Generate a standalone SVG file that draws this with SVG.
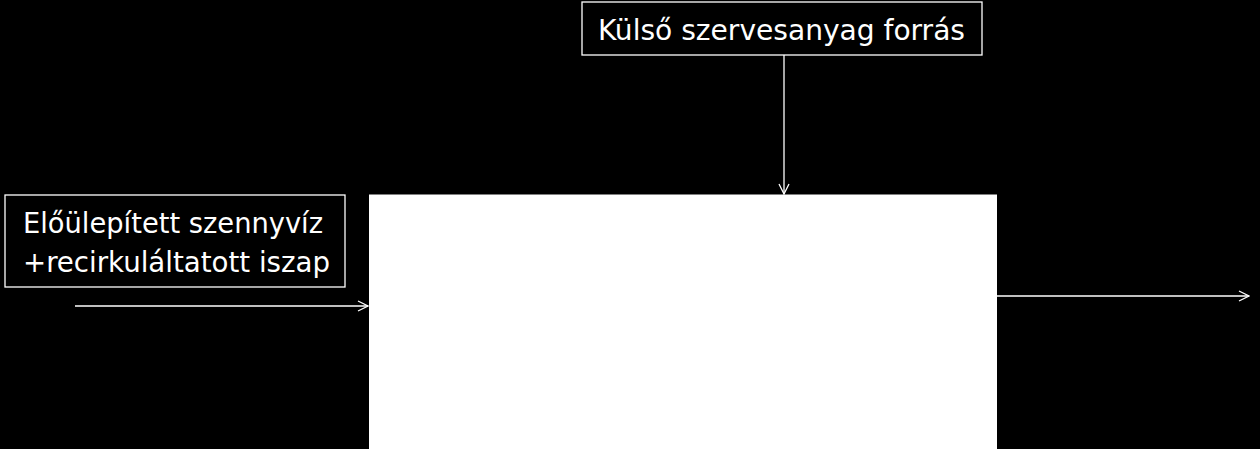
<svg xmlns="http://www.w3.org/2000/svg" width="1260" height="449" viewBox="0 0 1260 449">
<style>
.lbl{fill:#000;stroke:#fff;stroke-width:1.3}
.t{fill:#fff;font-family:"DejaVu Sans Condensed","DejaVu Sans","Liberation Sans",sans-serif;font-size:28px}
.c{stroke:#fff;stroke-width:1.3;fill:none}
</style>
<defs>
<marker id="ah" viewBox="0 0 12 12" refX="11" refY="6" markerWidth="12" markerHeight="12" markerUnits="userSpaceOnUse" orient="auto">
<path d="M1,1 L11,6 L1,11" fill="none" stroke="#fff" stroke-width="1.3"/>
</marker>
</defs>
<rect width="1260" height="449" fill="#000"/>
<g id="process">
<rect x="369" y="194.5" width="628" height="255" fill="#fff"/>
</g>
<g id="source">
<rect class="lbl" x="582" y="2" width="400" height="53"/>
<text class="t" x="598" y="40" textLength="367" lengthAdjust="spacingAndGlyphs">Külső szervesanyag forrás</text>
</g>
<g id="inflow">
<rect class="lbl" x="5" y="195" width="340" height="92"/>
<text class="t" x="23" y="233" textLength="300" lengthAdjust="spacingAndGlyphs">Előülepített szennyvíz</text>
<text class="t" x="23" y="272" textLength="307" lengthAdjust="spacingAndGlyphs">+recirkuláltatott iszap</text>
</g>
<g id="connectors">
<line class="c" x1="75" y1="306" x2="368" y2="306" marker-end="url(#ah)"/>
<line class="c" x1="784" y1="55" x2="784" y2="194" marker-end="url(#ah)"/>
<line class="c" x1="997" y1="296" x2="1249" y2="296" marker-end="url(#ah)"/>
</g>
</svg>
